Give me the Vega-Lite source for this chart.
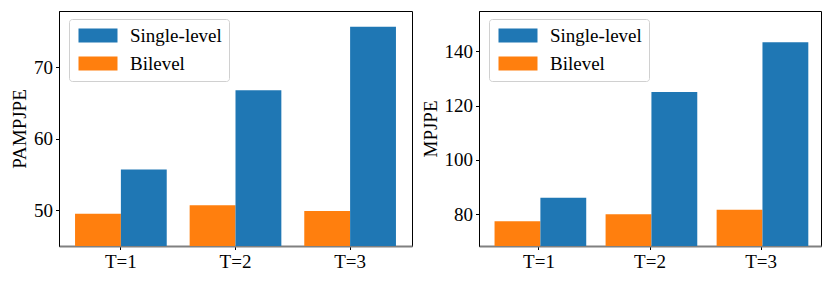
{
  "$schema": "https://vega.github.io/schema/vega-lite/v6.json",
  "padding": {"left": 10, "top": 10, "right": 0, "bottom": 0},
  "background": "white",
  "spacing": 7,
  "datasets": {
    "pampjpe": [
      {"t": "T=1", "method": "Bilevel", "value": 49.5},
      {"t": "T=1", "method": "Single-level", "value": 55.7},
      {"t": "T=2", "method": "Bilevel", "value": 50.7},
      {"t": "T=2", "method": "Single-level", "value": 66.8},
      {"t": "T=3", "method": "Bilevel", "value": 49.9},
      {"t": "T=3", "method": "Single-level", "value": 75.7}
    ],
    "mpjpe": [
      {"t": "T=1", "method": "Bilevel", "value": 77.3},
      {"t": "T=1", "method": "Single-level", "value": 86.0},
      {"t": "T=2", "method": "Bilevel", "value": 79.9},
      {"t": "T=2", "method": "Single-level", "value": 125.0},
      {"t": "T=3", "method": "Bilevel", "value": 81.6},
      {"t": "T=3", "method": "Single-level", "value": 143.4}
    ]
  },
  "config": {
    "font": "Liberation Serif",
    "view": {"stroke": "black", "strokeWidth": 1},
    "axis": {
      "labelFont": "Liberation Serif",
      "labelFontSize": 19,
      "labelColor": "black",
      "titleFont": "Liberation Serif",
      "titleFontSize": 19,
      "titleFontWeight": "normal",
      "titleColor": "black",
      "tickColor": "black",
      "tickSize": 3.5,
      "labelPadding": 3,
      "domainColor": "black",
      "grid": false
    },
    "axisX": {"domainColor": "#808080", "domainWidth": 2, "labelAngle": 0, "title": null},
    "legend": {
      "orient": "none",
      "legendX": 10,
      "legendY": 8,
      "title": null,
      "strokeColor": "#d0d0d0",
      "fillColor": "rgba(255,255,255,0.8)",
      "cornerRadius": 3,
      "padding": 7,
      "labelFont": "Liberation Serif",
      "labelFontSize": 19,
      "labelColor": "black",
      "labelOffset": 35,
      "rowPadding": 8,
      "symbolType": "M-1,-1H4.571V1H-1Z",
      "symbolSize": 196,
      "symbolStrokeWidth": 0,
      "symbolOpacity": 1
    }
  },
  "resolve": {"legend": {"color": "independent"}, "scale": {"color": "independent"}},
  "hconcat": [
    {
      "data": {"name": "pampjpe"},
      "width": 353,
      "height": 235,
      "mark": {"type": "bar", "clip": true},
      "encoding": {
        "x": {"field": "t", "type": "nominal", "scale": {"paddingInner": 0.2, "paddingOuter": 0.14}},
        "xOffset": {"field": "method", "type": "nominal", "sort": ["Bilevel", "Single-level"], "scale": {"paddingInner": 0, "paddingOuter": 0}},
        "y": {"field": "value", "type": "quantitative", "title": "PAMPJPE", "scale": {"domain": [45, 77.9], "nice": false, "zero": false}, "axis": {"values": [50, 60, 70]}},
        "color": {"field": "method", "type": "nominal", "scale": {"domain": ["Single-level", "Bilevel"], "range": ["#1f77b4", "#ff7f0e"]}}
      }
    },
    {
      "data": {"name": "mpjpe"},
      "width": 342,
      "height": 235,
      "mark": {"type": "bar", "clip": true},
      "encoding": {
        "x": {"field": "t", "type": "nominal", "scale": {"paddingInner": 0.2, "paddingOuter": 0.14}},
        "xOffset": {"field": "method", "type": "nominal", "sort": ["Bilevel", "Single-level"], "scale": {"paddingInner": 0, "paddingOuter": 0}},
        "y": {"field": "value", "type": "quantitative", "title": "MPJPE", "scale": {"domain": [68.2, 154.9], "nice": false, "zero": false}, "axis": {"values": [80, 100, 120, 140]}},
        "color": {"field": "method", "type": "nominal", "scale": {"domain": ["Single-level", "Bilevel"], "range": ["#1f77b4", "#ff7f0e"]}}
      }
    }
  ]
}
